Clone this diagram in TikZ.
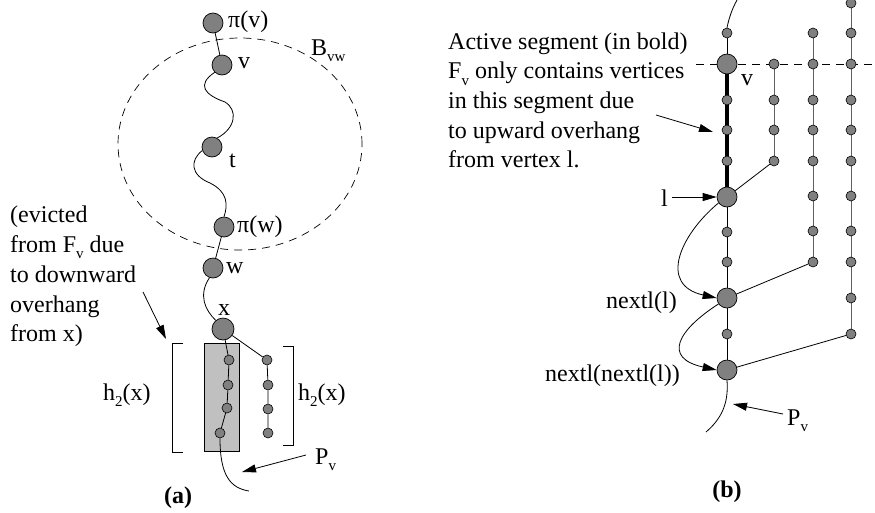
\documentclass[tikz,border=0pt]{standalone}
\usepackage{fontspec}
\setmainfont{Liberation Serif}
\usetikzlibrary{arrows.meta,shapes.geometric}
\definecolor{nodegray}{HTML}{808080}
\definecolor{boxgray}{HTML}{C0C0C0}
\definecolor{linegray}{HTML}{606060}
\newcommand\mysub[1]{\raisebox{-0.28em}{\fontsize{15}{15}\selectfont #1}}
\pgfdeclarelayer{bg}
\pgfsetlayers{bg,main}
\begin{document}
\begin{tikzpicture}[x=1pt,y=-1pt,
  bignode/.style={circle,draw=black,line width=0.7pt,fill=nodegray,minimum size=20pt,inner sep=0pt},
  smallnode/.style={circle,draw=black,line width=0.6pt,fill=nodegray,minimum size=10pt,inner sep=0pt},
  lbl/.style={inner sep=0pt,font=\fontsize{24}{29.5}\selectfont},
  conn/.style={line width=0.8pt},
  colline/.style={line width=0.9pt,draw=linegray},
  arr/.style={line width=0.8pt,-{Triangle[length=14pt,width=8pt]}},
  dashline/.style={line width=0.7pt,dash pattern=on 8pt off 6pt},
]
\useasboundingbox (0,0) rectangle (875,512);

% ---------------- panel (a) ----------------
\node[ellipse,draw,dashline,minimum width=244pt,minimum height=212pt,inner sep=0pt] (ball) at (240,144) {};

\node[bignode] (piv) at (213,23) {};
\node[bignode] (v) at (222,65) {};
\node[bignode] (t) at (212,147) {};
\node[bignode] (piw) at (224,227) {};
\node[bignode] (w) at (213,268) {};
\node[bignode,minimum size=22pt] (x) at (223,329) {};
\node[smallnode] (a1) at (229,360) {};
\node[smallnode] (a2) at (228,385) {};
\node[smallnode] (a3) at (227,408) {};
\node[smallnode] (a4) at (220,433) {};
\node[smallnode] (b1) at (267,360) {};
\node[smallnode] (b2) at (268,385) {};
\node[smallnode] (b3) at (268,409) {};
\node[smallnode] (b4) at (268,433) {};
\coordinate (pa) at (249,491);

\begin{pgfonlayer}{bg}
\node[draw,line width=0.8pt,fill=boxgray,minimum width=35pt,minimum height=108pt,inner sep=0pt] (box) at (221.5,397) {};
\draw[conn] (piv) -- (v);
\draw[conn] (v.225) .. controls (196,85) and (205,95) .. (225,102) .. controls (238,110) and (236,128) .. (t.60);
\draw[conn] (t.200) .. controls (190,160) and (190,175) .. (210,183) .. controls (228,192) and (228,205) .. (piw.north);
\draw[conn] (piw) -- (w);
\draw[conn] (w.250) .. controls (198,295) and (205,310) .. (x.130);
\draw[conn] (x) -- (a1) -- (a2) -- (a3) -- (a4);
\draw[conn] (x) -- (b1) -- (b2) -- (b3) -- (b4);
\draw[conn] (a4.south) .. controls (220,475) and (230,488) .. (pa);
\end{pgfonlayer}

\draw[conn] (183,343) -- (172,343) -- (172,452) -- (183,452);
\draw[conn] (283,346) -- (293,346) -- (293,445) -- (283,445);

\node[lbl,anchor=base west] (lpiv) at (228,27) {π(v)};
\node[lbl,anchor=base west] (lv) at (238,68) {v};
\node[lbl,anchor=base west] (lt) at (229,167) {t};
\node[lbl,anchor=base west] (lpiw) at (237,232) {π(w)};
\node[lbl,anchor=base west] (lw) at (226,273) {w};
\node[lbl,anchor=base] (lx) at (224,315) {x};
\node[lbl,anchor=base west] (lB) at (311,55) {B\mysub{vw}};

\node[lbl,anchor=base west] (e1) at (10,222) {(evicted};
\node[lbl,anchor=base west] (e2) at (10,252) {from F\mysub{v} due};
\node[lbl,anchor=base west] (e3) at (10,282) {to downward};
\node[lbl,anchor=base west] (e4) at (10,312) {overhang};
\node[lbl,anchor=base west] (e5) at (10,341) {from x)};
\coordinate (ea1) at (143,292);
\coordinate (ea2) at (166,339);
\draw[arr] (ea1) -- (ea2);

\node[lbl,anchor=base west] (h1) at (103,400) {h\mysub{2}(x)};
\node[lbl,anchor=base west] (h2) at (298,400) {h\mysub{2}(x)};

\node[lbl,anchor=base west] (lpa) at (315,464) {P\mysub{v}};
\coordinate (pas) at (306,455);
\coordinate (pae) at (242,472);
\draw[arr] (pas) -- (pae);

\node[lbl,anchor=base,font=\fontsize{24}{29.5}\selectfont\bfseries] (capa) at (178,503) {(a)};

% ---------------- panel (b) ----------------
\node[smallnode] (m1) at (727,33) {};
\node[bignode] (vb) at (727,64) {};
\node[smallnode] (m2) at (727,100) {};
\node[smallnode] (m3) at (727,130) {};
\node[smallnode] (m4) at (727,161) {};
\node[bignode] (lb) at (727,197) {};
\node[smallnode] (m5) at (727,232) {};
\node[smallnode] (m6) at (727,262) {};
\node[bignode] (nl) at (727,298) {};
\node[smallnode] (m7) at (727,334) {};
\node[bignode] (nnl) at (727,370) {};

\foreach \yy [count=\i] in {64,100,130,161} \node[smallnode] (c2n\i) at (774,\yy) {};
\foreach \yy [count=\i] in {33,64,100,130,161,196,231,262} \node[smallnode] (c3n\i) at (813,\yy) {};
\foreach \yy [count=\i] in {3,33,64,100,130,161,196,231,262,298,334} \node[smallnode] (c4n\i) at (851,\yy) {};

\coordinate (topc) at (737,0);
\coordinate (dl) at (696,64);
\coordinate (dr) at (875,64);
\coordinate (pb) at (706,432);

\begin{pgfonlayer}{bg}
\draw[dashline] (dl) -- (dr);
\draw[conn] (m1.north) .. controls (729,18) and (732,9) .. (topc);
\draw[conn] (m1) -- (vb);
\draw[line width=3.5pt] (vb) -- (lb);
\draw[conn] (lb) -- (nnl);
\draw[colline] (c2n1) -- (c2n4);
\draw[colline] (c3n1) -- (c3n8);
\draw[colline] (c4n1) -- (c4n11);
\draw[conn] (c2n4) -- (lb);
\draw[conn] (c3n8) -- (nl);
\draw[conn] (c4n11) -- (nnl);
\draw[conn] (nnl.south) .. controls (729,405) and (720,420) .. (pb);
\end{pgfonlayer}

\draw[arr] (lb.215) .. controls (680,235) and (658,285) .. (nl.180);
\draw[arr] (nl.215) .. controls (678,330) and (662,358) .. (nnl.180);

\node[lbl,anchor=base west] (lvb) at (741,85) {v};
\node[lbl,anchor=base west] (ll) at (661,206) {l};
\coordinate (lla) at (672,197);
\draw[arr] (lla) -- (lb);
\node[lbl,anchor=base east] (lnl) at (677,308) {nextl(l)};
\node[lbl,anchor=base east] (lnnl) at (680,381) {nextl(nextl(l))};

\node[lbl,anchor=base west] (t1) at (448,49) {Active segment (in bold)};
\node[lbl,anchor=base west] (t2) at (448,78.7) {F\mysub{v} only contains vertices};
\node[lbl,anchor=base west] (t3) at (448,108.4) {in this segment due};
\node[lbl,anchor=base west] (t4) at (448,138.1) {to upward overhang};
\node[lbl,anchor=base west] (t5) at (448,167.8) {from vertex l.};
\coordinate (ta1) at (656,115);
\coordinate (ta2) at (713,132);
\draw[arr] (ta1) -- (ta2);

\node[lbl,anchor=base west] (lpb) at (787,425) {P\mysub{v}};
\coordinate (pbs) at (783,414);
\coordinate (pbe) at (733,404);
\draw[arr] (pbs) -- (pbe);

\node[lbl,anchor=base,font=\fontsize{24}{29.5}\selectfont\bfseries] (capb) at (727,497) {(b)};
\end{tikzpicture}
\end{document}
